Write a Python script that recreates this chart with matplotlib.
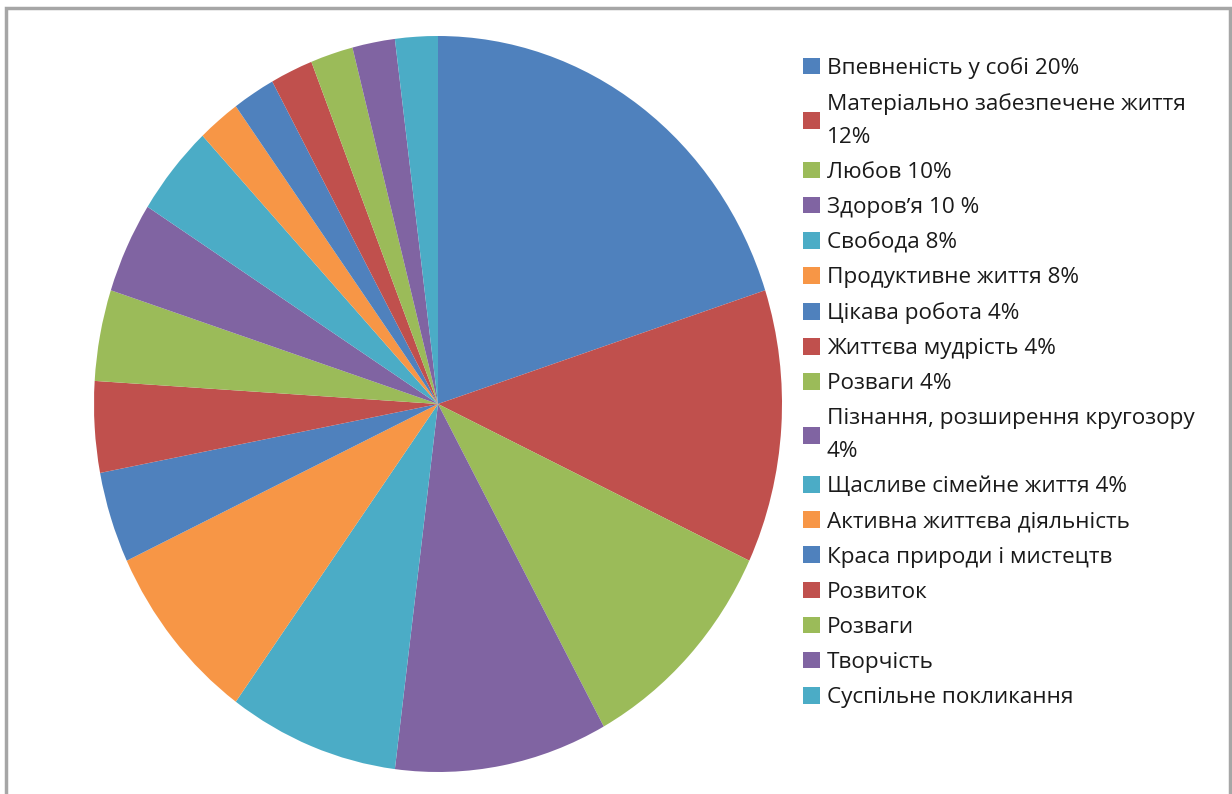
import matplotlib
matplotlib.use("Agg")
import matplotlib.pyplot as plt
from matplotlib.patches import Rectangle

labels = [
    "Впевненість у собі 20%",
    "Матеріально забезпечене життя\n12%",
    "Любов 10%",
    "Здоровʼя 10 %",
    "Свобода 8%",
    "Продуктивне життя 8%",
    "Цікава робота 4%",
    "Життєва мудрість 4%",
    "Розваги 4%",
    "Пізнання, розширення кругозору\n4%",
    "Щасливе сімейне життя 4%",
    "Активна життєва діяльність",
    "Краса природи і мистецтв",
    "Розвиток",
    "Розваги",
    "Творчість",
    "Суспільне покликання",
]
values = [20, 12, 10, 10, 8, 8, 4, 4, 4, 4, 4, 2, 2, 2, 2, 2, 2]

palette = ["#4F81BD", "#C0504D", "#9BBB59", "#8064A2", "#4BACC6", "#F79646"]
colors = [palette[i % len(palette)] for i in range(len(values))]

plt.rcParams['font.family'] = ['Open Sans', 'DejaVu Sans']

fig = plt.figure(figsize=(12.32, 7.94), dpi=100)

# chart frame (gray border like the original)
fig.patches.append(Rectangle((6 / 1232, -0.05), 1224 / 1232, 1.05 - 8 / 794,
                             transform=fig.transFigure, fill=False,
                             edgecolor="#a6a6a6", linewidth=2.5))

# the source picture is slightly stretched vertically, so the pie is an ellipse
ax = fig.add_axes([94 / 1232, 22 / 794, 688 / 1232, 736 / 794])
wedges, _ = ax.pie(values, colors=colors, startangle=90, counterclock=False,
                   wedgeprops=dict(linewidth=0))
ax.set_xlim(-1, 1)
ax.set_ylim(-1, 1)
ax.set_aspect("auto")

leg = fig.legend(wedges, labels, loc="upper left",
                 bbox_to_anchor=(803 / 1232, 1 - 57 / 794),
                 frameon=False, fontsize=16.2,
                 handlelength=0.76, handleheight=0.76, handletextpad=0.3,
                 labelspacing=0.62, borderaxespad=0, borderpad=0)
for t in leg.get_texts():
    t.set_color("#1a1a1a")
    if "\n" in t.get_text():
        t.set_linespacing(1.75)

fig.savefig("out.png", dpi=100)
